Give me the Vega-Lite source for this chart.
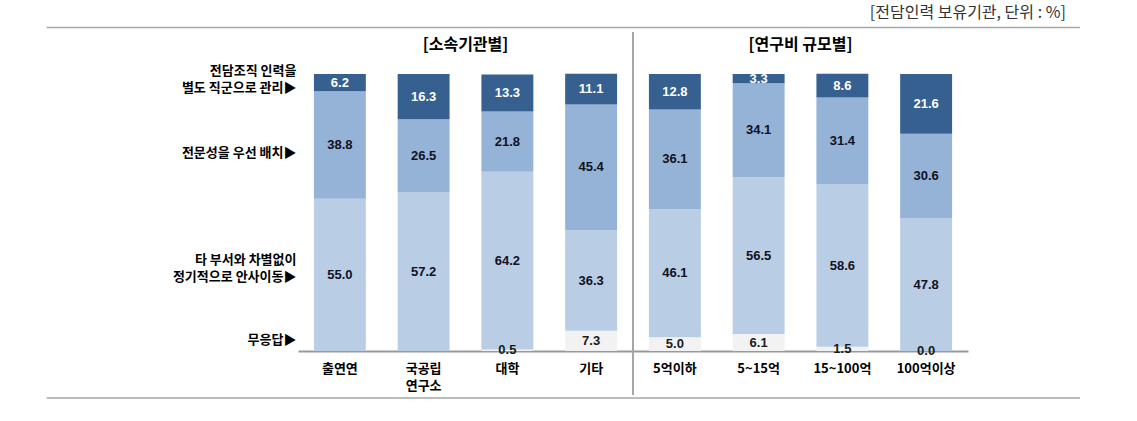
{
  "$schema": "https://vega.github.io/schema/vega-lite/v6.json",
  "autosize": {"type": "none"},
  "width": 670,
  "height": 277,
  "padding": {"left": 298, "top": 74, "right": 169, "bottom": 70},
  "background": "white",
  "config": {"view": {"stroke": null}, "font": "Noto Sans CJK KR"},
  "data": {"values": [
    {"cat": "출연연", "resp": "정기적 인사이동", "order": 2, "value": 55.0},
    {"cat": "출연연", "resp": "전문성 우선", "order": 3, "value": 38.8},
    {"cat": "출연연", "resp": "별도 직군", "order": 4, "value": 6.2},
    {"cat": "국공립연구소", "resp": "정기적 인사이동", "order": 2, "value": 57.2},
    {"cat": "국공립연구소", "resp": "전문성 우선", "order": 3, "value": 26.5},
    {"cat": "국공립연구소", "resp": "별도 직군", "order": 4, "value": 16.3},
    {"cat": "대학", "resp": "무응답", "order": 1, "value": 0.5},
    {"cat": "대학", "resp": "정기적 인사이동", "order": 2, "value": 64.2},
    {"cat": "대학", "resp": "전문성 우선", "order": 3, "value": 21.8},
    {"cat": "대학", "resp": "별도 직군", "order": 4, "value": 13.3},
    {"cat": "기타", "resp": "무응답", "order": 1, "value": 7.3},
    {"cat": "기타", "resp": "정기적 인사이동", "order": 2, "value": 36.3},
    {"cat": "기타", "resp": "전문성 우선", "order": 3, "value": 45.4},
    {"cat": "기타", "resp": "별도 직군", "order": 4, "value": 11.1},
    {"cat": "5억이하", "resp": "무응답", "order": 1, "value": 5.0},
    {"cat": "5억이하", "resp": "정기적 인사이동", "order": 2, "value": 46.1},
    {"cat": "5억이하", "resp": "전문성 우선", "order": 3, "value": 36.1},
    {"cat": "5억이하", "resp": "별도 직군", "order": 4, "value": 12.8},
    {"cat": "5~15억", "resp": "무응답", "order": 1, "value": 6.1},
    {"cat": "5~15억", "resp": "정기적 인사이동", "order": 2, "value": 56.5},
    {"cat": "5~15억", "resp": "전문성 우선", "order": 3, "value": 34.1},
    {"cat": "5~15억", "resp": "별도 직군", "order": 4, "value": 3.3},
    {"cat": "15~100억", "resp": "무응답", "order": 1, "value": 1.5},
    {"cat": "15~100억", "resp": "정기적 인사이동", "order": 2, "value": 58.6},
    {"cat": "15~100억", "resp": "전문성 우선", "order": 3, "value": 31.4},
    {"cat": "15~100억", "resp": "별도 직군", "order": 4, "value": 8.6},
    {"cat": "100억이상", "resp": "무응답", "order": 1, "value": 0.0},
    {"cat": "100억이상", "resp": "정기적 인사이동", "order": 2, "value": 47.8},
    {"cat": "100억이상", "resp": "전문성 우선", "order": 3, "value": 30.6},
    {"cat": "100억이상", "resp": "별도 직군", "order": 4, "value": 21.6}
  ]},
  "resolve": {"scale": {"x": "independent", "color": "independent"}, "axis": {"x": "independent"}},
  "layer": [
    {
      "mark": {"type": "bar"},
      "encoding": {
        "x": {"field": "cat", "type": "nominal", "sort": null,
              "scale": {"paddingInner": 0.38, "paddingOuter": 0.19},
              "axis": {"title": null, "domainColor": "#999999", "domainWidth": 2, "ticks": false,
                       "labelAngle": 0, "labelFont": "Noto Sans CJK KR", "labelFontWeight": "bold",
                       "labelFontSize": 13, "labelColor": "#000000", "labelBaseline": "middle",
                       "labelPadding": 17, "labelLineHeight": 17,
                       "labelExpr": "datum.value == '국공립연구소' ? ['국공립','연구소'] : datum.value"}},
        "y": {"field": "value", "type": "quantitative", "stack": "zero",
              "scale": {"domain": [0, 100], "nice": false},
              "axis": {"title": null, "grid": false, "ticks": false, "domain": false,
                       "values": [4.0, 32.9, 71.5, 100], "labelOverlap": false, "labelBound": false,
                       "labelFont": "Noto Sans CJK KR", "labelFontWeight": "bold", "labelFontSize": 13,
                       "labelColor": "#000000", "labelPadding": 2, "labelLineHeight": 17,
                       "labelOffset": {"condition": {"test": "datum.value > 90", "value": -4}, "value": 0},
                       "labelExpr": "datum.value > 90 ? ['전담조직 인력을','별도 직군으로 관리▶'] : datum.value > 50 ? '전문성을 우선 배치▶' : datum.value > 20 ? ['타 부서와 차별없이','정기적으로 안사이동▶'] : '무응답▶'"}},
        "order": {"field": "order", "type": "quantitative"},
        "color": {"field": "resp", "type": "nominal", "legend": null,
                  "scale": {"domain": ["무응답", "정기적 인사이동", "전문성 우선", "별도 직군"],
                            "range": ["#F2F2F2", "#B9CDE5", "#95B3D7", "#35608F"]}}
      }
    },
    {
      "transform": [
        {"stack": "value", "groupby": ["cat"], "sort": [{"field": "order"}], "as": ["y0", "y1"]},
        {"calculate": "(datum.y0 + datum.y1) / 2", "as": "mid"}
      ],
      "mark": {"type": "text", "font": "Liberation Sans", "fontWeight": "bold", "fontSize": 13, "baseline": "middle"},
      "encoding": {
        "x": {"field": "cat", "type": "nominal", "sort": null,
              "scale": {"paddingInner": 0.38, "paddingOuter": 0.19}, "axis": null},
        "y": {"field": "mid", "type": "quantitative", "scale": {"domain": [0, 100], "nice": false}},
        "text": {"field": "value", "type": "quantitative", "format": ".1f"},
        "color": {"field": "resp", "type": "nominal", "legend": null,
                  "scale": {"domain": ["무응답", "정기적 인사이동", "전문성 우선", "별도 직군"],
                            "range": ["#1a1a1a", "#111122", "#111122", "#FFFFFF"]}}
      }
    },
    {
      "data": {"values": [{}]},
      "mark": {"type": "rule", "color": "#A6A6A6", "strokeWidth": 2},
      "encoding": {
        "x": {"datum": 0.5, "type": "quantitative", "scale": {"domain": [0, 1], "nice": false, "zero": false}, "axis": null},
        "y": {"datum": 115.2, "type": "quantitative", "scale": {"domain": [0, 100], "nice": false}},
        "y2": {"datum": -15.9}
      }
    },
    {
      "data": {"values": [{}]},
      "mark": {"type": "rule", "color": "#A6A6A6", "strokeWidth": 1.5},
      "encoding": {
        "x": {"datum": -0.375, "type": "quantitative", "scale": {"domain": [0, 1], "nice": false, "zero": false}, "axis": null},
        "x2": {"datum": 1.167},
        "y": {"datum": 116.8, "type": "quantitative", "scale": {"domain": [0, 100], "nice": false}}
      }
    },
    {
      "data": {"values": [{}]},
      "mark": {"type": "rule", "color": "#A6A6A6", "strokeWidth": 1.5},
      "encoding": {
        "x": {"datum": -0.375, "type": "quantitative", "scale": {"domain": [0, 1], "nice": false, "zero": false}, "axis": null},
        "x2": {"datum": 1.167},
        "y": {"datum": -17.0, "type": "quantitative", "scale": {"domain": [0, 100], "nice": false}}
      }
    },
    {
      "data": {"values": [{}]},
      "mark": {"type": "text", "font": "Noto Sans CJK KR", "fontWeight": "bold", "fontSize": 16, "baseline": "middle", "align": "center", "color": "#000000"},
      "encoding": {
        "x": {"datum": 0.25, "type": "quantitative", "scale": {"domain": [0, 1], "nice": false, "zero": false}, "axis": null},
        "y": {"datum": 110.5, "type": "quantitative", "scale": {"domain": [0, 100], "nice": false}},
        "text": {"value": "[소속기관별]"}
      }
    },
    {
      "data": {"values": [{}]},
      "mark": {"type": "text", "font": "Noto Sans CJK KR", "fontWeight": "bold", "fontSize": 16, "baseline": "middle", "align": "center", "color": "#000000"},
      "encoding": {
        "x": {"datum": 0.75, "type": "quantitative", "scale": {"domain": [0, 1], "nice": false, "zero": false}, "axis": null},
        "y": {"datum": 110.5, "type": "quantitative", "scale": {"domain": [0, 100], "nice": false}},
        "text": {"value": "[연구비 규모별]"}
      }
    },
    {
      "data": {"values": [{}]},
      "mark": {"type": "text", "font": "Noto Sans CJK KR", "fontSize": 16, "baseline": "middle", "align": "right", "color": "#333333"},
      "encoding": {
        "x": {"datum": 1.146, "type": "quantitative", "scale": {"domain": [0, 1], "nice": false, "zero": false}, "axis": null},
        "y": {"datum": 122.0, "type": "quantitative", "scale": {"domain": [0, 100], "nice": false}},
        "text": {"value": "[전담인력 보유기관, 단위 : %]"}
      }
    }
  ]
}
